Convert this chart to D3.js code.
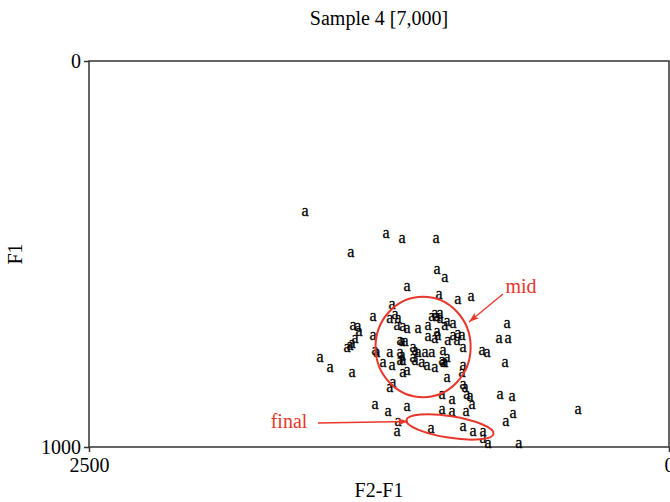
<!DOCTYPE html>
<html>
<head>
<meta charset="utf-8">
<script src="https://cdn.jsdelivr.net/npm/d3@7"></script>
<style>
  body { margin: 0; background: #fff; }
  text { font-family: "Liberation Serif", "Times New Roman", serif; }
</style>
</head>
<body>
<div id="chart"></div>
<script>
// F2-F1 (x) and F1 (y) of each token
var F2F1 = [1569, 1220, 1151, 1004, 1371, 1000, 966, 1129, 991, 910, 853, 1194, 1276, 1203, 1181, 1168,
  1362, 1341, 1336, 1172, 1147, 1129, 1082, 1039, 1022, 1009, 1000, 987, 987, 966, 957, 931,
  1039, 1009, 1000, 996, 953, 931, 914, 910, 892, 1276, 1159, 1151, 1138, 1353, 1366, 1388,
  1375, 1267, 1259, 1203, 1159, 1151, 1103, 1095, 1082, 1052, 1022, 974, 888, 1504, 1461, 1366,
  1233, 1194, 1159, 1147, 1103, 1095, 1065, 1043, 1009, 978, 974, 957, 966, 888, 1147, 1129,
  957, 892, 1203, 1190, 888, 879, 978, 935, 871, 858, 849, 728, 677, 806, 784, 733,
  694, 698, 707, 1267, 1211, 1129, 978, 935, 875, 703, 672, 392, 1168, 1172, 1026, 888,
  845, 802, 802, 780, 647];
var F1 = [391, 446, 461, 459, 495, 541, 560, 583, 606, 619, 611, 632, 663, 668, 658, 666,
  684, 689, 702, 684, 687, 692, 692, 684, 663, 653, 663, 653, 668, 684, 676, 679,
  715, 718, 702, 710, 723, 710, 723, 705, 710, 710, 723, 728, 728, 718, 731, 741,
  736, 749, 754, 754, 754, 762, 741, 751, 754, 754, 754, 749, 741, 769, 795, 806,
  780, 788, 775, 775, 767, 775, 780, 790, 793, 775, 782, 769, 780, 788, 806, 801,
  819, 808, 845, 834, 839, 847, 863, 878, 865, 870, 889, 863, 868, 751, 754, 718,
  718, 679, 782, 889, 909, 896, 904, 909, 909, 933, 912, 904, 935, 961, 951, 948,
  961, 961, 977, 990, 992];

var xDomain = [2500, 0];
var yDomain = [0, 1000];

// annotations: [label, ellipse cx, cy, rx, ry (data units), rotation]
var midMark = ['mid', 1060, 741, 205, 130, 0];
var finalMark = ['final', 944, 948, 190, 28, 9];

var W = 670, H = 502;
var margin = {top: 61, right: 1, bottom: 55, left: 89};
var RED = '#e8372c';

var svg = d3.select('#chart').append('svg')
    .attr('width', W)
    .attr('height', H);

var defs = svg.append('defs');
defs.append('marker')
    .attr('id', 'arrow')
    .attr('markerUnits', 'userSpaceOnUse')
    .attr('markerWidth', 12)
    .attr('markerHeight', 10)
    .attr('viewBox', '0 0 12 10')
    .attr('refX', 11)
    .attr('refY', 5)
    .attr('orient', 'auto')
    .append('path')
        .attr('d', 'M1,1.5 L11,5 L1,8.5 L3,5 Z')
        .attr('fill', RED);

var x = d3.scaleLinear().domain(xDomain).range([margin.left, W - margin.right]);
var y = d3.scaleLinear().domain(yDomain).range([margin.top, H - margin.bottom]);

// frame
svg.append('rect')
    .attr('x', x(2500))
    .attr('y', y(0))
    .attr('width', x(0) - x(2500))
    .attr('height', y(1000) - y(0))
    .attr('fill', 'none')
    .attr('stroke', '#333')
    .attr('stroke-width', 1.5);

var xAxis = svg.append('g')
    .attr('transform', 'translate(0,' + y(1000) + ')')
    .call(d3.axisBottom(x).tickValues([2500, 0]).tickFormat(d3.format('d'))
        .tickSize(5).tickSizeOuter(0).tickPadding(6));
var yAxis = svg.append('g')
    .attr('transform', 'translate(' + x(2500) + ',0)')
    .call(d3.axisLeft(y).tickValues([0, 1000]).tickFormat(d3.format('d'))
        .tickSize(5).tickSizeOuter(0).tickPadding(3));

[xAxis, yAxis].forEach(function(a) {
  a.select('.domain').remove();
  a.selectAll('line').attr('stroke', '#333').attr('stroke-width', 1.5);
  a.selectAll('text')
      .attr('fill', '#000')
      .style('font-family', '"Liberation Serif", serif')
      .style('font-size', '20px');
});

// titles
svg.append('text')
    .attr('x', (x(2500) + x(0)) / 2)
    .attr('y', 25)
    .attr('text-anchor', 'middle')
    .style('font-size', '20px')
    .text('Sample 4 [7,000]');

svg.append('text')
    .attr('x', (x(2500) + x(0)) / 2)
    .attr('y', 497)
    .attr('text-anchor', 'middle')
    .style('font-size', '20px')
    .text('F2-F1');

svg.append('text')
    .attr('transform', 'translate(22,' + ((y(0) + y(1000)) / 2) + ') rotate(-90)')
    .attr('text-anchor', 'middle')
    .style('font-size', '20px')
    .text('F1');

// tokens
svg.append('g').selectAll('text')
    .data(F2F1.map(function(d, i) { return [d, F1[i]]; }))
    .join('text')
        .attr('x', function(d) { return x(d[0]); })
        .attr('y', function(d) { return y(d[1]); })
        .attr('dy', '0.28em')
        .attr('text-anchor', 'middle')
        .attr('fill', '#000')
        .attr('stroke', '#000')
        .attr('stroke-width', 0.3)
        .style('font-size', '16px')
        .text('a');

// red annotations
function DrawEllipse(m) {
  var cx = x(m[1]), cy = y(m[2]);
  svg.append('ellipse')
      .attr('cx', cx)
      .attr('cy', cy)
      .attr('rx', Math.abs(x(m[1] + m[3]) - cx))
      .attr('ry', Math.abs(y(m[2] + m[4]) - cy))
      .attr('transform', 'rotate(' + m[5] + ',' + cx + ',' + cy + ')')
      .attr('fill', 'none')
      .attr('stroke', RED)
      .attr('stroke-width', 2);
}
DrawEllipse(midMark);
DrawEllipse(finalMark);

svg.append('line')
    .attr('x1', 503).attr('y1', 294)
    .attr('x2', 469).attr('y2', 322)
    .attr('stroke', RED)
    .attr('stroke-width', 1.3)
    .attr('marker-end', 'url(#arrow)');
svg.append('text')
    .attr('x', 521).attr('y', 293)
    .attr('text-anchor', 'middle')
    .attr('fill', RED)
    .style('font-size', '20px')
    .text(midMark[0]);

svg.append('line')
    .attr('x1', 318).attr('y1', 423)
    .attr('x2', 408).attr('y2', 421.5)
    .attr('stroke', RED)
    .attr('stroke-width', 1.3)
    .attr('marker-end', 'url(#arrow)');
svg.append('text')
    .attr('x', 289).attr('y', 428)
    .attr('text-anchor', 'middle')
    .attr('fill', RED)
    .style('font-size', '20px')
    .text(finalMark[0]);
</script>
</body>
</html>
